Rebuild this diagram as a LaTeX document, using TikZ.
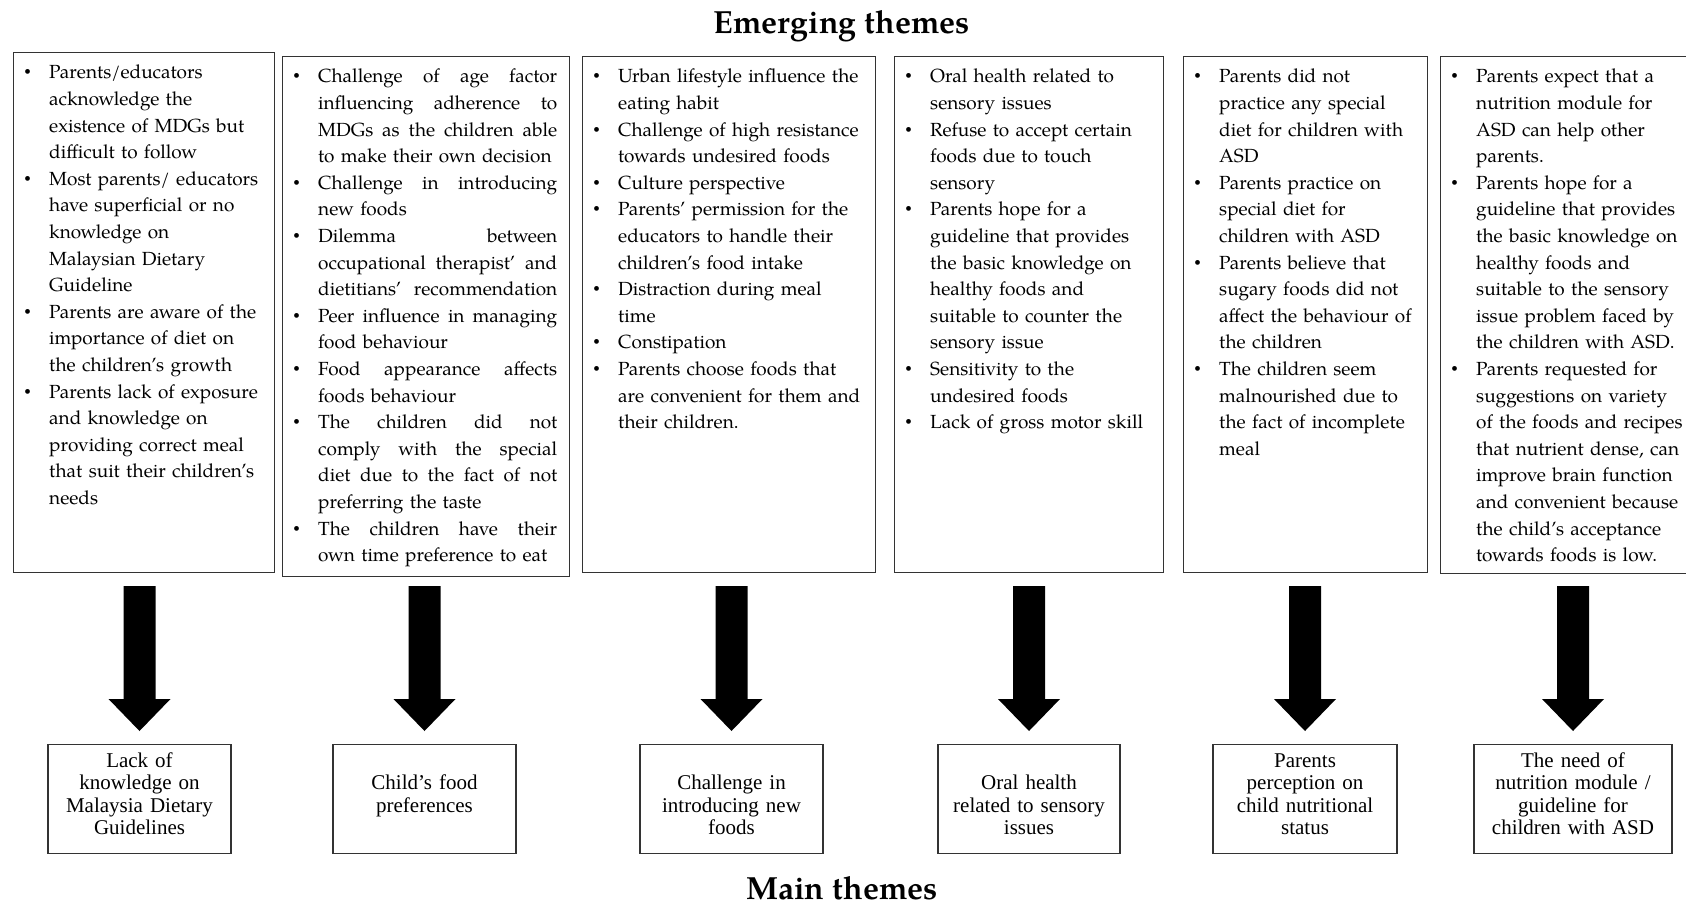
\documentclass[tikz,border=0pt]{standalone}
\usepackage{fontspec}
\newfontfamily\tnr{Liberation Serif}
\newfontfamily\pal{TeX Gyre Pagella}
\usetikzlibrary{calc}
\newlength\hangw \setlength\hangw{25pt}
\newcommand\bi[1]{\par\noindent\strut\makebox[\hangw][l]{{\tnr\fontsize{20}{26.6}\selectfont •}}#1}
\newcommand\ci[1]{\par\noindent\strut\hspace*{\hangw}#1}
\newcommand\jl[1]{{\spaceskip=0.25em plus 1fil\xspaceskip=0.25em plus 1fil\makebox[239pt][s]{#1}}}
% thick block arrow from above the main-theme node #1 down to it
\newcommand\bigarrow[1]{%
  \fill[black, shift={(#1.north)}] (-16,-158) -- (-16,-45) -- (-31,-45) -- (0,-13)
    -- (31,-45) -- (16,-45) -- (16,-158) -- cycle;}
\tikzset{
  ebox/.style={draw=black!80, line width=1.3pt, anchor=north west, inner sep=0pt},
  etext/.style={anchor=north west, inner sep=0pt, align=left, font=\pal\fontsize{19}{26.6}\selectfont},
  mbox/.style={draw=black!80, line width=1.3pt, anchor=north, inner sep=0pt, minimum height=109pt},
  mtext/.style={anchor=north, inner sep=0pt, align=center, font=\tnr\fontsize{21}{22.6}\selectfont},
  ttl/.style={anchor=base, inner sep=0pt, font=\pal\bfseries\fontsize{32}{38}\selectfont}
}
\begin{document}
\begin{tikzpicture}[x=1pt,y=-1pt]
\path[use as bounding box] (0,0) rectangle (1686,907);
\fill[white] (0,0) rectangle (1686,907);
\clip (0,0) rectangle (1686,907);

\node[ttl] (title1) at (842,34) {Emerging themes};
\node[ttl] (title2) at (842,899) {Main themes};

% emerging theme boxes
\node[ebox, minimum width=261pt, minimum height=520pt] (e1) at (13,52) {};
\node[ebox, minimum width=287pt, minimum height=520pt] (e2) at (282,56) {};
\node[ebox, minimum width=293pt, minimum height=516pt] (e3) at (582,56) {};
\node[ebox, minimum width=269pt, minimum height=516pt] (e4) at (894,56) {};
\node[ebox, minimum width=244pt, minimum height=516pt] (e5) at (1183,56) {};
\node[ebox, minimum width=262pt, minimum height=517pt] (e6) at (1440,56) {};

\node[etext, text width=250pt] (t1) at ($(e1.north west)+(11,0)$) {%
\bi{Parents/educators}
\ci{acknowledge the}
\ci{existence of MDGs but}
\ci{difficult to follow}
\bi{Most parents/ educators}
\ci{have superficial or no}
\ci{knowledge on}
\ci{Malaysian Dietary}
\ci{Guideline}
\bi{Parents are aware of the}
\ci{importance of diet on}
\ci{the children’s growth}
\bi{Parents lack of exposure}
\ci{and knowledge on}
\ci{providing correct meal}
\ci{that suit their children’s}
\ci{needs}};

\node[etext, text width=276pt] (t2) at ($(e2.north west)+(11,0)$) {%
\bi{\jl{Challenge of age factor}}
\ci{\jl{influencing adherence to}}
\ci{\jl{MDGs as the children able}}
\ci{to make their own decision}
\bi{\jl{Challenge in introducing}}
\ci{new foods}
\bi{\jl{Dilemma between}}
\ci{\jl{occupational therapist’ and}}
\ci{\jl{dietitians’ recommendation}}
\bi{\jl{Peer influence in managing}}
\ci{food behaviour}
\bi{\jl{Food appearance affects}}
\ci{foods behaviour}
\bi{\jl{The children did not}}
\ci{\jl{comply with the special}}
\ci{\jl{diet due to the fact of not}}
\ci{preferring the taste}
\bi{\jl{The children have their}}
\ci{own time preference to eat}};

\node[etext, text width=282pt] (t3) at ($(e3.north west)+(11,0)$) {%
\bi{Urban lifestyle influence the}
\ci{eating habit}
\bi{Challenge of high resistance}
\ci{towards undesired foods}
\bi{Culture perspective}
\bi{Parents’ permission for the}
\ci{educators to handle their}
\ci{children’s food intake}
\bi{Distraction during meal}
\ci{time}
\bi{Constipation}
\bi{Parents choose foods that}
\ci{are convenient for them and}
\ci{their children.}};

\node[etext, text width=258pt] (t4) at ($(e4.north west)+(11,0)$) {%
\bi{Oral health related to}
\ci{sensory issues}
\bi{Refuse to accept certain}
\ci{foods due to touch}
\ci{sensory}
\bi{Parents hope for a}
\ci{guideline that provides}
\ci{the basic knowledge on}
\ci{healthy foods and}
\ci{suitable to counter the}
\ci{sensory issue}
\bi{Sensitivity to the}
\ci{undesired foods}
\bi{Lack of gross motor skill}};

\node[etext, text width=233pt] (t5) at ($(e5.north west)+(11,0)$) {%
\bi{Parents did not}
\ci{practice any special}
\ci{diet for children with}
\ci{ASD}
\bi{Parents practice on}
\ci{special diet for}
\ci{children with ASD}
\bi{Parents believe that}
\ci{sugary foods did not}
\ci{affect the behaviour of}
\ci{the children}
\bi{The children seem}
\ci{malnourished due to}
\ci{the fact of incomplete}
\ci{meal}};

\node[etext, text width=240pt] (t6) at ($(e6.north west)+(11,0)$) {%
\bi{Parents expect that a}
\ci{nutrition module for}
\ci{ASD can help other}
\ci{parents.}
\bi{Parents hope for a}
\ci{guideline that provides}
\ci{the basic knowledge on}
\ci{healthy foods and}
\ci{suitable to the sensory}
\ci{issue problem faced by}
\ci{the children with ASD.}
\bi{Parents requested for}
\ci{suggestions on variety}
\ci{of the foods and recipes}
\ci{that nutrient dense, can}
\ci{improve brain function}
\ci{and convenient because}
\ci{the child’s acceptance}
\ci{towards foods is low.}};

% main theme boxes
\node[mbox, minimum width=183pt] (m1) at (139.5,744) {};
\node[mbox, minimum width=183pt] (m2) at (424.5,744) {};
\node[mbox, minimum width=183pt] (m3) at (731.5,744) {};
\node[mbox, minimum width=182pt] (m4) at (1029,744) {};
\node[mbox, minimum width=184pt] (m5) at (1305,744) {};
\node[mbox, minimum width=198pt] (m6) at (1573,744) {};

\node[mtext, text width=180pt] (mt1) at ($(m1.north)+(0,7)$) {\strut Lack of\\knowledge on\\Malaysia Dietary\\Guidelines};
\node[mtext, text width=180pt] (mt2) at ($(m2.north)+(0,29.7)$) {\strut Child’s food\\preferences};
\node[mtext, text width=180pt] (mt3) at ($(m3.north)+(0,29.7)$) {\strut Challenge in\\introducing new\\foods};
\node[mtext, text width=180pt] (mt4) at ($(m4.north)+(0,29.7)$) {\strut Oral health\\related to sensory\\issues};
\node[mtext, text width=180pt] (mt5) at ($(m5.north)+(0,7)$) {\strut Parents\\perception on\\child nutritional\\status};
\node[mtext, text width=194pt] (mt6) at ($(m6.north)+(0,7)$) {\strut The need of\\nutrition module /\\guideline for\\children with ASD};

% arrows from the emerging themes down to the main themes
\bigarrow{m1}
\bigarrow{m2}
\bigarrow{m3}
\bigarrow{m4}
\bigarrow{m5}
\bigarrow{m6}
\end{tikzpicture}
\end{document}
